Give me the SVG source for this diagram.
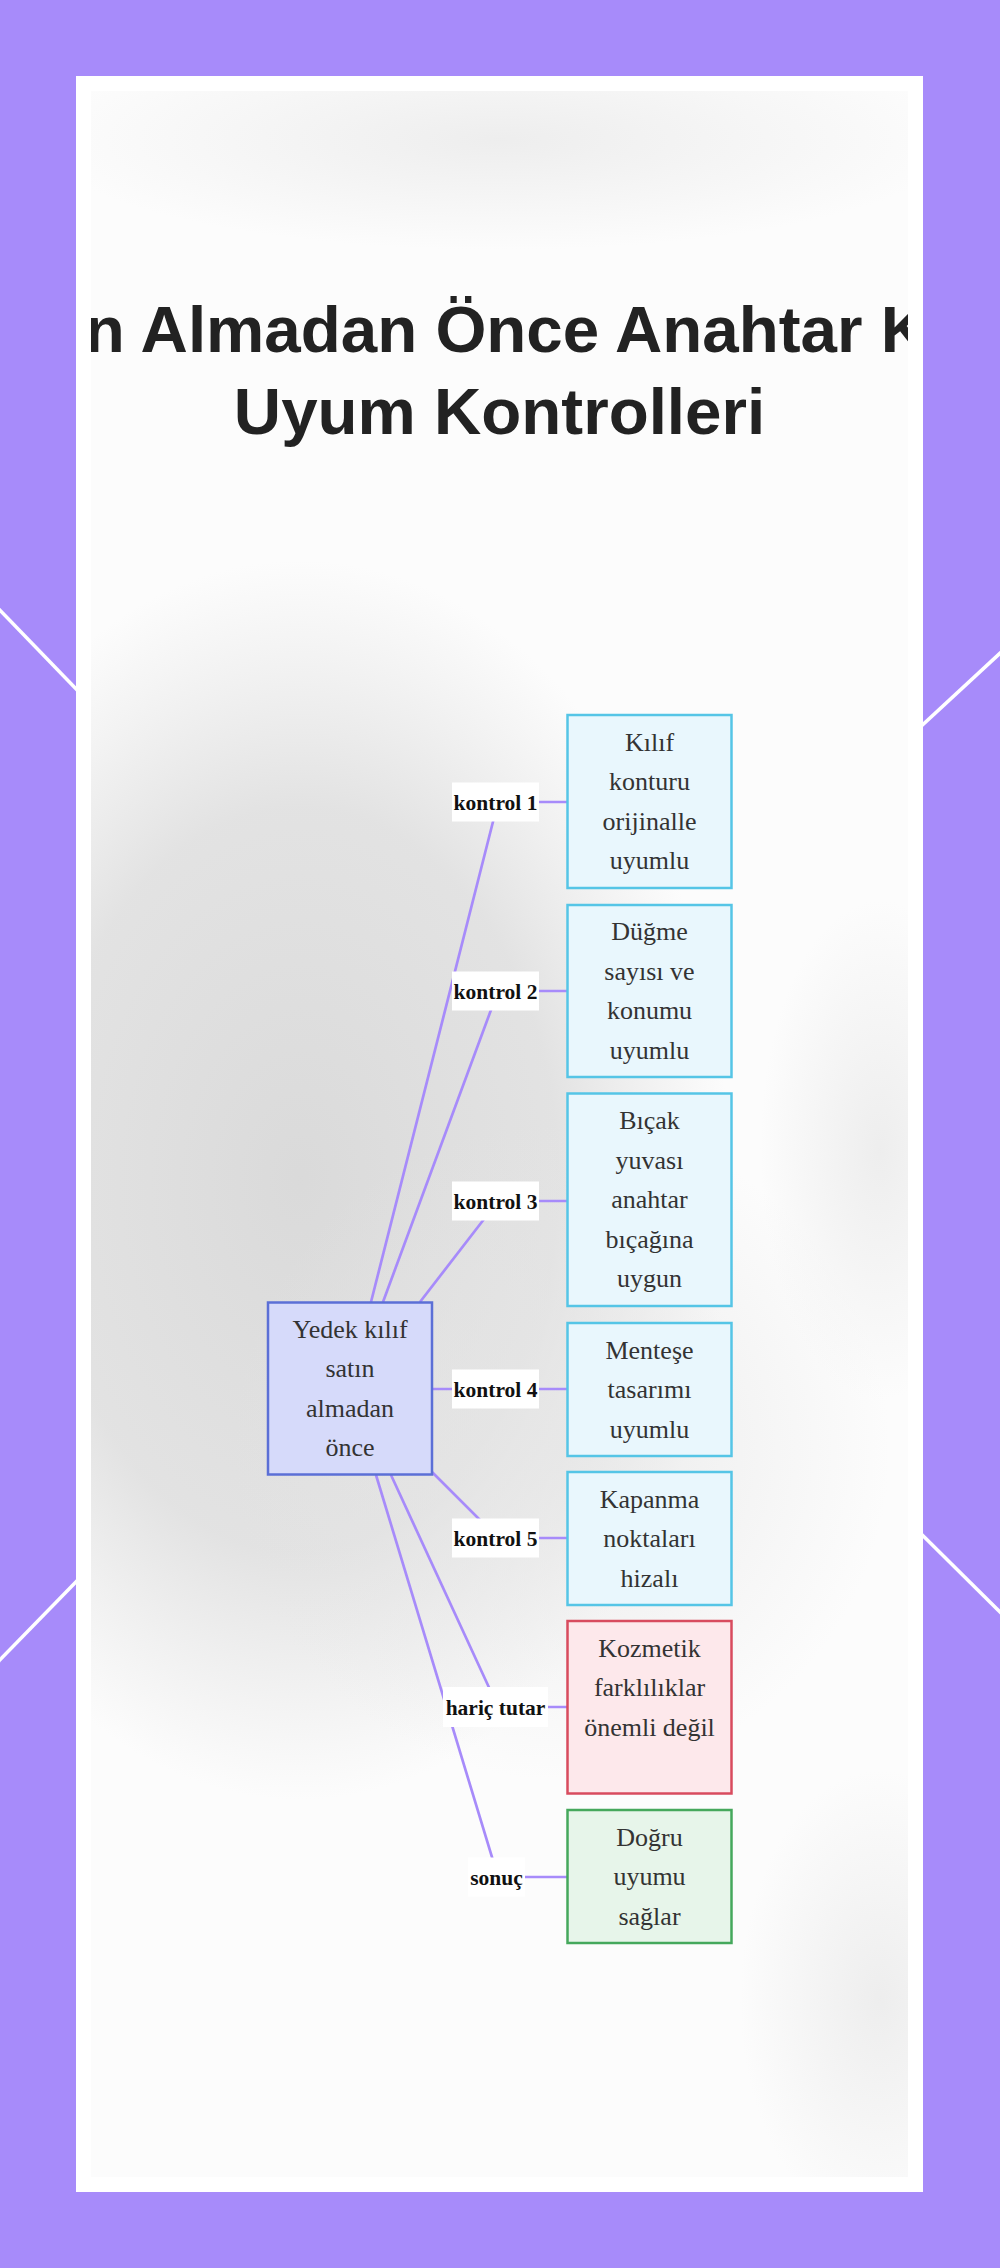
<svg xmlns="http://www.w3.org/2000/svg" width="1000" height="2268" viewBox="0 0 1000 2268">
<defs>
<style>
.title{font-family:"Liberation Sans",Arial,sans-serif;font-weight:bold;font-size:65.5px;fill:#222;}
.nt{font-family:"Liberation Serif","Times New Roman",serif;font-size:26px;fill:#333;text-anchor:middle;}
.lt{font-family:"Liberation Serif","Times New Roman",serif;font-weight:bold;font-size:21.5px;fill:#111;text-anchor:middle;}
.lbg{fill:#ffffff;}
.edge{fill:none;stroke:#a78bfa;stroke-width:2.7;}
.blue{fill:#e9f7fd;stroke:#55c5e6;stroke-width:2.5;}
.root{fill:#d6dafa;stroke:#5b6fd6;stroke-width:2.5;}
.red{fill:#fde8eb;stroke:#d84b5e;stroke-width:2.5;}
.green{fill:#e7f5ea;stroke:#45a85c;stroke-width:2.5;}
.deco{stroke:#ffffff;stroke-width:3.5;}
</style>
<clipPath id="inner"><rect x="91" y="91" width="817" height="2086"/></clipPath>
<radialGradient id="g1" cx="0.5" cy="0.5" r="0.5">
<stop offset="0" stop-color="#d8d8d8" stop-opacity="0.95"/>
<stop offset="0.6" stop-color="#dcdcdc" stop-opacity="0.8"/>
<stop offset="1" stop-color="#e0e0e0" stop-opacity="0"/>
</radialGradient>
<radialGradient id="g2" cx="0.5" cy="0.5" r="0.5">
<stop offset="0" stop-color="#e6e6e6" stop-opacity="0.8"/>
<stop offset="1" stop-color="#e6e6e6" stop-opacity="0"/>
</radialGradient>
<radialGradient id="g3" cx="0.5" cy="0.5" r="0.5">
<stop offset="0" stop-color="#ececec" stop-opacity="0.9"/>
<stop offset="1" stop-color="#ececec" stop-opacity="0"/>
</radialGradient>
</defs>

<rect x="0" y="0" width="1000" height="2268" fill="#a78bfa"/>
<line class="deco" x1="-10" y1="600" x2="110" y2="724"/>
<line class="deco" x1="-10" y1="1670" x2="110" y2="1547"/>
<line class="deco" x1="1010" y1="644" x2="890" y2="755"/>
<line class="deco" x1="1010" y1="1622" x2="890" y2="1503"/>

<rect x="76" y="76" width="847" height="2116" fill="#ffffff"/>
<g clip-path="url(#inner)">
<rect x="91" y="91" width="817" height="2086" fill="#fcfcfc"/>
<ellipse cx="500" cy="140" rx="460" ry="110" fill="url(#g3)"/>
<ellipse cx="300" cy="1180" rx="430" ry="620" fill="url(#g1)"/>
<ellipse cx="560" cy="1450" rx="330" ry="330" fill="url(#g2)"/>
<ellipse cx="880" cy="1150" rx="120" ry="250" fill="url(#g3)"/>
<ellipse cx="880" cy="2000" rx="140" ry="230" fill="url(#g3)"/>
<text class="title" x="84.8" y="352">n Almadan Önce Anahtar K</text>
<text class="title" x="499.5" y="434" text-anchor="middle">Uyum Kontrolleri</text>
</g>

<g id="connectors">
<path class="edge" d="M371,1302 L498,802 L567,802"/>
<path class="edge" d="M383,1302 L498,991 L567,991"/>
<path class="edge" d="M420,1302 L498,1201 L567,1201"/>
<path class="edge" d="M432,1389 L567,1389"/>
<path class="edge" d="M432,1472 L498,1538 L567,1538"/>
<path class="edge" d="M391,1475 L498,1707 L567,1707"/>
<path class="edge" d="M376,1475 L498,1877 L567,1877"/>
</g>

<g id="edge-labels">
<g id="label1"><rect class="lbg" x="452" y="782.5" width="87" height="39"/><text class="lt" x="495.5" y="809.5">kontrol 1</text></g>
<g id="label2"><rect class="lbg" x="452" y="971.5" width="87" height="39"/><text class="lt" x="495.5" y="998.5">kontrol 2</text></g>
<g id="label3"><rect class="lbg" x="452" y="1181.5" width="87" height="39"/><text class="lt" x="495.5" y="1208.5">kontrol 3</text></g>
<g id="label4"><rect class="lbg" x="452" y="1369.5" width="87" height="39"/><text class="lt" x="495.5" y="1396.5">kontrol 4</text></g>
<g id="label5"><rect class="lbg" x="452" y="1518.5" width="87" height="39"/><text class="lt" x="495.5" y="1545.5">kontrol 5</text></g>
<g id="label6"><rect class="lbg" x="443" y="1687" width="105" height="40"/><text class="lt" x="495.5" y="1714.5">hariç tutar</text></g>
<g id="label7"><rect class="lbg" x="468" y="1857.5" width="57" height="39"/><text class="lt" x="496.5" y="1884.5">sonuç</text></g>
</g>

<g id="root">
<rect class="root" x="268" y="1302.5" width="164" height="172"/>
<text class="nt" x="350" y="1337.8">Yedek kılıf</text>
<text class="nt" x="350" y="1377.3">satın</text>
<text class="nt" x="350" y="1416.8">almadan</text>
<text class="nt" x="350" y="1456.3">önce</text>
</g>

<g id="node1">
<rect class="blue" x="567.5" y="715" width="164" height="173"/>
<text class="nt" x="649.5" y="750.8">Kılıf</text>
<text class="nt" x="649.5" y="790.3">konturu</text>
<text class="nt" x="649.5" y="829.8">orijinalle</text>
<text class="nt" x="649.5" y="869.3">uyumlu</text>
</g>

<g id="node2">
<rect class="blue" x="567.5" y="905" width="164" height="172"/>
<text class="nt" x="649.5" y="940.3">Düğme</text>
<text class="nt" x="649.5" y="979.8">sayısı ve</text>
<text class="nt" x="649.5" y="1019.3">konumu</text>
<text class="nt" x="649.5" y="1058.8">uyumlu</text>
</g>

<g id="node3">
<rect class="blue" x="567.5" y="1093.5" width="164" height="212.5"/>
<text class="nt" x="649.5" y="1129">Bıçak</text>
<text class="nt" x="649.5" y="1168.5">yuvası</text>
<text class="nt" x="649.5" y="1208">anahtar</text>
<text class="nt" x="649.5" y="1247.5">bıçağına</text>
<text class="nt" x="649.5" y="1287">uygun</text>
</g>

<g id="node4">
<rect class="blue" x="567.5" y="1323" width="164" height="133"/>
<text class="nt" x="649.5" y="1358.5">Menteşe</text>
<text class="nt" x="649.5" y="1398">tasarımı</text>
<text class="nt" x="649.5" y="1437.5">uyumlu</text>
</g>

<g id="node5">
<rect class="blue" x="567.5" y="1472" width="164" height="133"/>
<text class="nt" x="649.5" y="1507.5">Kapanma</text>
<text class="nt" x="649.5" y="1547">noktaları</text>
<text class="nt" x="649.5" y="1586.5">hizalı</text>
</g>

<g id="node6">
<rect class="red" x="567.5" y="1621" width="164" height="172.5"/>
<text class="nt" x="649.5" y="1656.5">Kozmetik</text>
<text class="nt" x="649.5" y="1696">farklılıklar</text>
<text class="nt" x="649.5" y="1735.5">önemli değil</text>
</g>

<g id="node7">
<rect class="green" x="567.5" y="1810" width="164" height="133"/>
<text class="nt" x="649.5" y="1845.5">Doğru</text>
<text class="nt" x="649.5" y="1885">uyumu</text>
<text class="nt" x="649.5" y="1924.5">sağlar</text>
</g>
</svg>
